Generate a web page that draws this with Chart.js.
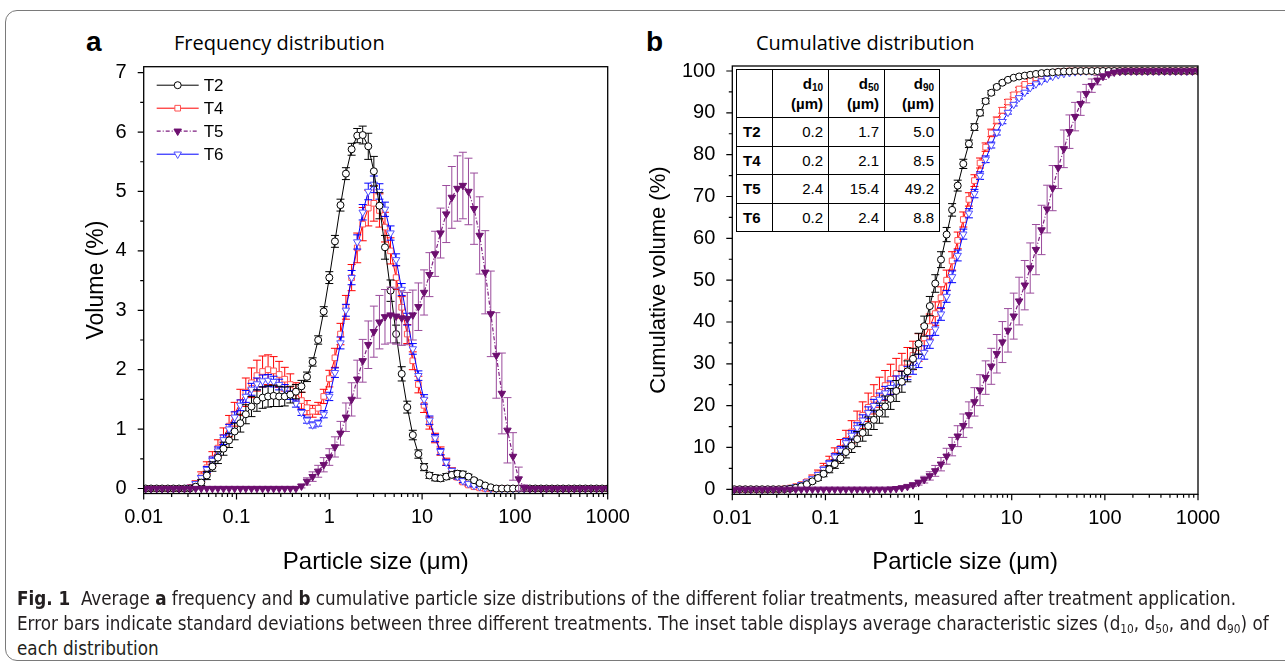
<!DOCTYPE html>
<html>
<head>
<meta charset="utf-8">
<script src="https://cdn.jsdelivr.net/npm/chart.js@4.4.1/dist/chart.umd.min.js"></script>
<style>
  body { margin: 0; width: 1285px; height: 668px; overflow: hidden; position: relative; background: #fff;
         font-family: 'Liberation Sans', Arial, sans-serif; color: #000; }
  .frame { position: absolute; left: 5px; top: 10px; width: 1320px; height: 651px; box-sizing: border-box;
           border: 1.5px solid #7a7a7a; border-radius: 12px; }
  canvas { position: absolute; }
  .plab { position: absolute; font-weight: bold; font-size: 28px; line-height: 1; }
  .ptitle { position: absolute; font-family: 'Open Sans', sans-serif; font-size: 20px; line-height: 1; }
  table.inset { position: absolute; left: 736px; top: 69px; width: 203px; table-layout: fixed;
                border-collapse: collapse; background: #fff; font-size: 15px; }
  table.inset td { border: 1px solid #000; padding: 0 5px 0 0; text-align: right; line-height: 17px; }
  table.inset tr { height: 28.5px; }
  table.inset tr.hd { height: 48px; }
  table.inset tr.hd td { font-weight: bold; line-height: 20px; }
  table.inset td.rl { font-weight: bold; text-align: left; padding-left: 6px; }
  table.inset sub { font-size: 10px; line-height: 0; vertical-align: -2px; }
  .cap { position: absolute; left: 17px; font-family: 'Liberation Sans Narrow', 'DejaVu Sans', sans-serif;
         font-stretch: condensed; font-size: 19px; line-height: 20px; white-space: nowrap;
         transform-origin: 0 0; color: #231f20; }
  .cap sub { font-size: 12px; line-height: 0; vertical-align: -3px; }
</style>
</head>
<body>
<div class="frame"></div>

<div class="plab" style="left:86px;top:28px">a</div>
<div class="ptitle" style="left:174px;top:33px">Frequency distribution</div>
<div class="plab" style="left:646px;top:28px">b</div>
<div class="ptitle" style="left:756px;top:33px">Cumulative distribution</div>

<canvas id="freqChart" width="600" height="570" style="left:40px;top:40px"></canvas>
<canvas id="cumChart" width="620" height="570" style="left:640px;top:40px"></canvas>

<table class="inset">
  <colgroup><col style="width:36px"><col style="width:56px"><col style="width:56px"><col style="width:55px"></colgroup>
  <tr class="hd"><td></td><td>d<sub>10</sub><br>(µm)</td><td>d<sub>50</sub><br>(µm)</td><td>d<sub>90</sub><br>(µm)</td></tr>
  <tr><td class="rl">T2</td><td>0.2</td><td>1.7</td><td>5.0</td></tr>
  <tr><td class="rl">T4</td><td>0.2</td><td>2.1</td><td>8.5</td></tr>
  <tr><td class="rl">T5</td><td>2.4</td><td>15.4</td><td>49.2</td></tr>
  <tr><td class="rl">T6</td><td>0.2</td><td>2.4</td><td>8.8</td></tr>
</table>

<div class="cap" style="top:588px"><b>Fig. 1</b>&nbsp; Average <b>a</b> frequency and <b>b</b> cumulative particle size distributions of the different foliar treatments, measured after treatment application.</div>
<div class="cap" style="top:613px">Error bars indicate standard deviations between three different treatments. The inset table displays average characteristic sizes (d<sub>10</sub>, d<sub>50</sub>, and d<sub>90</sub>) of</div>
<div class="cap" style="top:638px">each distribution</div>

<script>
// particle size classes (µm)
const sizes = [
  0.0105, 0.0120, 0.0138, 0.0158, 0.0182, 0.0209, 0.0240, 0.0275, 0.0316, 0.0363,
  0.0417, 0.0479, 0.0550, 0.0631, 0.0724, 0.0832, 0.0955, 0.110, 0.126, 0.145,
  0.166, 0.191, 0.219, 0.251, 0.288, 0.331, 0.380, 0.437, 0.501, 0.575,
  0.661, 0.759, 0.871, 1.00, 1.15, 1.32, 1.51, 1.74, 2.00, 2.29,
  2.63, 3.02, 3.47, 3.98, 4.57, 5.25, 6.03, 6.92, 7.94, 9.12,
  10.5, 12.0, 13.8, 15.8, 18.2, 20.9, 24.0, 27.5, 31.6, 36.3,
  41.7, 47.9, 55.0, 63.1, 72.4, 83.2, 95.5, 110, 126, 145,
  166, 191, 219, 251, 288, 331, 380, 437, 501, 575,
  661, 759, 871, 1000
];

const seriesNames = ['T2', 'T4', 'T5', 'T6'];
const xTickValues = [0.01, 0.1, 1, 10, 100, 1000];
const freqTickValues = [0, 1, 2, 3, 4, 5, 6, 7];
const cumTickValues = [0, 10, 20, 30, 40, 50, 60, 70, 80, 90, 100];

// frequency distribution, volume %
const freqT2 = [
  0, 0, 0, 0, 0, 0, 0, 0, 0, 0.03,
  0.10, 0.22, 0.37, 0.52, 0.67, 0.81, 0.96, 1.10, 1.25, 1.38,
  1.48, 1.53, 1.55, 1.56, 1.55, 1.55, 1.58, 1.63, 1.72, 1.88,
  2.13, 2.50, 2.98, 3.55, 4.16, 4.77, 5.30, 5.71, 5.94, 5.95,
  5.76, 5.34, 4.76, 4.06, 3.33, 2.60, 1.93, 1.37, 0.90, 0.58,
  0.36, 0.22, 0.18, 0.17, 0.20, 0.23, 0.25, 0.24, 0.20, 0.14,
  0.09, 0.05, 0.02, 0, 0, 0, 0, 0, 0, 0,
  0, 0, 0, 0, 0, 0, 0, 0, 0, 0,
  0, 0, 0, 0
];
const freqT2Err = [
  0, 0, 0, 0, 0, 0, 0, 0, 0, 0.03,
  0.05, 0.07, 0.08, 0.10, 0.11, 0.12, 0.14, 0.15, 0.16, 0.17,
  0.18, 0.18, 0.18, 0.18, 0.17, 0.16, 0.14, 0.12, 0.10, 0.08,
  0.07, 0.07, 0.08, 0.10, 0.10, 0.10, 0.10, 0.10, 0.12, 0.15,
  0.22, 0.25, 0.22, 0.20, 0.18, 0.15, 0.12, 0.10, 0.08, 0.07,
  0.06, 0.05, 0.05, 0.05, 0.05, 0.05, 0.05, 0.05, 0.04, 0.03,
  0.02, 0.02, 0.01, 0, 0, 0, 0, 0, 0, 0,
  0, 0, 0, 0, 0, 0, 0, 0, 0, 0,
  0, 0, 0, 0
];
const freqT4 = [
  0, 0, 0, 0, 0, 0, 0, 0, 0.02, 0.08,
  0.20, 0.35, 0.50, 0.68, 0.86, 1.05, 1.25, 1.45, 1.62, 1.78,
  1.90, 1.97, 2.00, 1.98, 1.92, 1.84, 1.75, 1.62, 1.48, 1.36,
  1.30, 1.35, 1.55, 1.85, 2.20, 2.60, 3.05, 3.55, 4.05, 4.45,
  4.72, 4.80, 4.68, 4.40, 4.00, 3.55, 3.05, 2.60, 2.15, 1.75,
  1.40, 1.10, 0.85, 0.63, 0.45, 0.30, 0.19, 0.11, 0.06, 0.03,
  0.01, 0, 0, 0, 0, 0, 0, 0, 0, 0,
  0, 0, 0, 0, 0, 0, 0, 0, 0, 0,
  0, 0, 0, 0
];
const freqT4Err = [
  0, 0, 0, 0, 0, 0, 0, 0, 0.02, 0.05,
  0.08, 0.10, 0.12, 0.14, 0.16, 0.18, 0.20, 0.22, 0.24, 0.25,
  0.26, 0.26, 0.25, 0.24, 0.22, 0.20, 0.18, 0.16, 0.14, 0.12,
  0.10, 0.10, 0.12, 0.14, 0.16, 0.18, 0.20, 0.22, 0.25, 0.28,
  0.30, 0.30, 0.28, 0.25, 0.22, 0.20, 0.18, 0.16, 0.15, 0.14,
  0.12, 0.10, 0.08, 0.07, 0.06, 0.05, 0.04, 0.03, 0.02, 0.01,
  0.01, 0, 0, 0, 0, 0, 0, 0, 0, 0,
  0, 0, 0, 0, 0, 0, 0, 0, 0, 0,
  0, 0, 0, 0
];
const freqT5 = [
  0, 0, 0, 0, 0, 0, 0, 0, 0, 0,
  0, 0, 0, 0, 0, 0, 0, 0, 0, 0,
  0, 0, 0, 0, 0, 0, 0, 0, 0.04, 0.12,
  0.20, 0.29, 0.40, 0.53, 0.70, 0.93, 1.20, 1.50, 1.84, 2.15,
  2.42, 2.64, 2.80, 2.89, 2.92, 2.90, 2.87, 2.86, 2.92, 3.06,
  3.30, 3.60, 3.95, 4.30, 4.62, 4.90, 5.05, 5.10, 5.00, 4.71,
  4.26, 3.64, 2.94, 2.24, 1.60, 0.98, 0.54, 0.16, 0.01, 0,
  0, 0, 0, 0, 0, 0, 0, 0, 0, 0,
  0, 0, 0, 0
];
const freqT5Err = [
  0, 0, 0, 0, 0, 0, 0, 0, 0, 0,
  0, 0, 0, 0, 0, 0, 0, 0, 0, 0,
  0, 0, 0, 0, 0, 0, 0, 0, 0.03, 0.06,
  0.08, 0.10, 0.12, 0.14, 0.17, 0.20, 0.24, 0.28, 0.32, 0.36,
  0.40, 0.43, 0.45, 0.46, 0.47, 0.47, 0.46, 0.44, 0.42, 0.40,
  0.38, 0.37, 0.38, 0.42, 0.48, 0.52, 0.55, 0.56, 0.56, 0.60,
  0.65, 0.70, 0.72, 0.72, 0.68, 0.55, 0.40, 0.20, 0.05, 0,
  0, 0, 0, 0, 0, 0, 0, 0, 0, 0,
  0, 0, 0, 0
];
const freqT6 = [
  0, 0, 0, 0, 0, 0, 0, 0, 0.02, 0.08,
  0.18, 0.32, 0.47, 0.63, 0.82, 1.00, 1.20, 1.40, 1.55, 1.67,
  1.76, 1.81, 1.82, 1.80, 1.75, 1.67, 1.57, 1.43, 1.28, 1.15,
  1.07, 1.10, 1.25, 1.55, 1.95, 2.45, 3.00, 3.55, 4.15, 4.65,
  5.00, 5.12, 5.00, 4.70, 4.30, 3.85, 3.35, 2.85, 2.35, 1.90,
  1.50, 1.15, 0.85, 0.62, 0.44, 0.30, 0.20, 0.13, 0.08, 0.05,
  0.03, 0.01, 0, 0, 0, 0, 0, 0, 0, 0,
  0, 0, 0, 0, 0, 0, 0, 0, 0, 0,
  0, 0, 0, 0
];
const freqT6Err = [
  0, 0, 0, 0, 0, 0, 0, 0, 0.01, 0.03,
  0.04, 0.05, 0.06, 0.07, 0.08, 0.08, 0.09, 0.09, 0.10, 0.10,
  0.10, 0.10, 0.10, 0.09, 0.09, 0.08, 0.07, 0.06, 0.05, 0.05,
  0.05, 0.05, 0.06, 0.07, 0.08, 0.10, 0.10, 0.12, 0.12, 0.13,
  0.14, 0.14, 0.13, 0.12, 0.12, 0.10, 0.10, 0.10, 0.09, 0.08,
  0.08, 0.07, 0.06, 0.05, 0.05, 0.04, 0.04, 0.03, 0.02, 0.02,
  0.01, 0.01, 0, 0, 0, 0, 0, 0, 0, 0,
  0, 0, 0, 0, 0, 0, 0, 0, 0, 0,
  0, 0, 0, 0
];

// cumulative distribution, volume %
const cumT2 = [
  0, 0, 0, 0, 0, 0, 0, 0, 0, 0.03,
  0.13, 0.35, 0.7, 1.2, 1.9, 2.7, 3.7, 4.8, 6.0, 7.4,
  8.9, 10.4, 12.0, 13.5, 15.1, 16.6, 18.2, 19.8, 21.6, 23.5,
  25.7, 28.2, 31.2, 34.8, 39.0, 43.8, 49.2, 54.9, 60.9, 66.8,
  72.6, 77.8, 82.6, 86.6, 90.0, 92.8, 94.8, 96.2, 97.2, 97.9,
  98.4, 98.7, 98.9, 99.1, 99.3, 99.5, 99.6, 99.7, 99.8, 99.9,
  99.9, 100, 100, 100, 100, 100, 100, 100, 100, 100,
  100, 100, 100, 100, 100, 100, 100, 100, 100, 100,
  100, 100, 100, 100
];
const cumT2Err = [
  0, 0, 0, 0, 0, 0, 0, 0, 0, 0.02,
  0.05, 0.1, 0.2, 0.3, 0.4, 0.55, 0.7, 0.85, 1.0, 1.2,
  1.4, 1.6, 1.8, 2.0, 2.2, 2.3, 2.4, 2.5, 2.5, 2.5,
  2.5, 2.5, 2.5, 2.5, 2.4, 2.3, 2.1, 1.9, 1.7, 1.5,
  1.3, 1.1, 0.9, 0.8, 0.7, 0.6, 0.5, 0.4, 0.35, 0.3,
  0.25, 0.2, 0.2, 0.15, 0.15, 0.1, 0.1, 0.1, 0.05, 0.05,
  0.05, 0, 0, 0, 0, 0, 0, 0, 0, 0,
  0, 0, 0, 0, 0, 0, 0, 0, 0, 0,
  0, 0, 0, 0
];
const cumT4 = [
  0, 0, 0, 0, 0, 0, 0, 0, 0.02, 0.1,
  0.3, 0.65, 1.15, 1.8, 2.7, 3.7, 5.0, 6.4, 8.1, 9.8,
  11.7, 13.7, 15.7, 17.7, 19.6, 21.5, 23.2, 24.8, 26.3, 27.7,
  29.0, 30.4, 32.0, 33.9, 36.2, 38.9, 42.0, 45.8, 50.0, 54.6,
  59.5, 64.5, 69.3, 73.8, 78.0, 81.8, 85.2, 88.2, 90.6, 92.6,
  94.3, 95.7, 96.8, 97.7, 98.4, 98.9, 99.3, 99.6, 99.8, 99.9,
  100, 100, 100, 100, 100, 100, 100, 100, 100, 100,
  100, 100, 100, 100, 100, 100, 100, 100, 100, 100,
  100, 100, 100, 100
];
const cumT4Err = [
  0, 0, 0, 0, 0, 0, 0, 0, 0.02, 0.05,
  0.1, 0.2, 0.35, 0.5, 0.7, 0.9, 1.2, 1.5, 1.8, 2.1,
  2.4, 2.7, 3.0, 3.2, 3.4, 3.5, 3.6, 3.6, 3.6, 3.6,
  3.5, 3.5, 3.4, 3.3, 3.2, 3.0, 2.8, 2.6, 2.4, 2.2,
  2.0, 1.8, 1.6, 1.4, 1.2, 1.0, 0.9, 0.8, 0.7, 0.6,
  0.5, 0.4, 0.3, 0.25, 0.2, 0.15, 0.1, 0.1, 0.05, 0.05,
  0, 0, 0, 0, 0, 0, 0, 0, 0, 0,
  0, 0, 0, 0, 0, 0, 0, 0, 0, 0,
  0, 0, 0, 0
];
const cumT5 = [
  0, 0, 0, 0, 0, 0, 0, 0, 0, 0,
  0, 0, 0, 0, 0, 0, 0, 0, 0, 0,
  0, 0, 0, 0, 0, 0, 0, 0, 0.05, 0.15,
  0.35, 0.65, 1.05, 1.6, 2.3, 3.2, 4.4, 6.0, 7.9, 10.2,
  12.7, 15.2, 17.8, 20.9, 23.7, 26.7, 29.4, 32.4, 35.2, 38.0,
  41.4, 45.0, 48.8, 52.9, 57.3, 62.0, 67.0, 72.0, 76.9, 81.4,
  85.5, 89.1, 92.2, 94.6, 96.5, 97.8, 98.7, 99.3, 99.7, 99.9,
  100, 100, 100, 100, 100, 100, 100, 100, 100, 100,
  100, 100, 100, 100
];
const cumT5Err = [
  0, 0, 0, 0, 0, 0, 0, 0, 0, 0,
  0, 0, 0, 0, 0, 0, 0, 0, 0, 0,
  0, 0, 0, 0, 0, 0, 0, 0, 0.03, 0.08,
  0.15, 0.25, 0.4, 0.6, 0.8, 1.0, 1.3, 1.6, 1.9, 2.2,
  2.5, 2.8, 3.1, 3.4, 3.7, 4.0, 4.3, 4.6, 4.9, 5.2,
  5.5, 5.7, 5.9, 6.0, 6.0, 5.9, 5.7, 5.4, 5.0, 4.5,
  4.0, 3.4, 2.8, 2.2, 1.6, 1.1, 0.7, 0.4, 0.2, 0.1,
  0, 0, 0, 0, 0, 0, 0, 0, 0, 0,
  0, 0, 0, 0
];
const cumT6 = [
  0, 0, 0, 0, 0, 0, 0, 0, 0.02, 0.1,
  0.3, 0.6, 1.1, 1.7, 2.5, 3.5, 4.7, 6.1, 7.7, 9.3,
  11.1, 12.9, 14.7, 16.5, 18.3, 20.0, 21.5, 23.0, 24.3, 25.5,
  26.6, 27.8, 29.1, 30.7, 32.7, 35.2, 38.3, 41.9, 46.1, 50.8,
  55.9, 61.0, 66.0, 70.7, 75.0, 78.9, 82.3, 85.3, 87.9, 90.1,
  92.0, 93.6, 94.9, 96.0, 96.9, 97.6, 98.2, 98.7, 99.1, 99.4,
  99.6, 99.8, 99.9, 100, 100, 100, 100, 100, 100, 100,
  100, 100, 100, 100, 100, 100, 100, 100, 100, 100,
  100, 100, 100, 100
];
const cumT6Err = [
  0, 0, 0, 0, 0, 0, 0, 0, 0.02, 0.05,
  0.1, 0.15, 0.2, 0.3, 0.4, 0.5, 0.6, 0.7, 0.8, 0.9,
  1.0, 1.1, 1.2, 1.3, 1.4, 1.5, 1.5, 1.6, 1.6, 1.6,
  1.6, 1.6, 1.6, 1.6, 1.6, 1.5, 1.5, 1.5, 1.4, 1.4,
  1.3, 1.2, 1.1, 1.0, 0.9, 0.8, 0.7, 0.6, 0.5, 0.4,
  0.35, 0.3, 0.25, 0.2, 0.15, 0.1, 0.1, 0.05, 0.05, 0.05,
  0, 0, 0, 0, 0, 0, 0, 0, 0, 0,
  0, 0, 0, 0, 0, 0, 0, 0, 0, 0,
  0, 0, 0, 0
];

// look of each series (T2, T4, T5, T6)
const styles = [
  { line: '#000000', width: 1, dash: [], point: 'circle', rotation: 0, radius: 3.5, stroke: '#000000', fill: '#ffffff', error: '#000000', order: 1 },
  { line: '#ff0000', width: 1, dash: [], point: 'rect', rotation: 0, radius: 4, stroke: '#ff5050', fill: '#ffffff', error: '#ff0000', order: 3 },
  { line: '#7e1e80', width: 1.2, dash: [4, 2, 1, 2], point: 'triangle', rotation: 180, radius: 4.3, stroke: '#6d0f6f', fill: '#6d0f6f', error: '#9a4b9c', order: 0 },
  { line: '#0000ff', width: 1, dash: [], point: 'triangle', rotation: 180, radius: 4.3, stroke: '#5050ff', fill: '#ffffff', error: '#0000ff', order: 2 }
];

Chart.defaults.font.family = "'Liberation Sans', Arial, sans-serif";
Chart.defaults.color = '#000';

// error bars under each series, frame and tick marks, legend
const decor = {
  id: 'decor',
  beforeDatasetDraw(chart, args) {
    const ds = chart.data.datasets[args.index];
    const { ctx, chartArea: a } = chart;
    const xs = chart.scales.x, ys = chart.scales.y;
    ctx.save();
    ctx.beginPath();
    ctx.rect(a.left, a.top, a.right - a.left, a.bottom - a.top);
    ctx.clip();
    ctx.strokeStyle = ds.errorColor;
    ctx.lineWidth = 1;
    ctx.beginPath();
    ds.data.forEach((p, i) => {
      const e = ds.errors[i];
      if (!e) return;
      const px = xs.getPixelForValue(p.x);
      const y1 = ys.getPixelForValue(p.y + e);
      const y2 = ys.getPixelForValue(p.y - e);
      ctx.moveTo(px, y1); ctx.lineTo(px, y2);
      ctx.moveTo(px - 4, y1); ctx.lineTo(px + 4, y1);
      ctx.moveTo(px - 4, y2); ctx.lineTo(px + 4, y2);
    });
    ctx.stroke();
    ctx.restore();
  },
  afterDraw(chart, args, opts) {
    const { ctx, chartArea: a } = chart;
    const xs = chart.scales.x, ys = chart.scales.y;
    ctx.save();
    ctx.strokeStyle = '#000';
    ctx.lineWidth = 1.3;
    ctx.strokeRect(a.left, a.top, a.right - a.left, a.bottom - a.top);
    ctx.lineWidth = 1.2;
    ctx.beginPath();
    for (let e = -2; e < 3; e++) {
      for (let m = 1; m <= 9; m++) {
        const px = xs.getPixelForValue(m * Math.pow(10, e));
        ctx.moveTo(px, a.bottom);
        ctx.lineTo(px, a.bottom + (m === 1 ? 6 : 3.5));
      }
    }
    const last = xs.getPixelForValue(1000);
    ctx.moveTo(last, a.bottom); ctx.lineTo(last, a.bottom + 6);
    for (let v = 0; v <= opts.yMax + 1e-9; v += opts.yMinor) {
      const py = ys.getPixelForValue(v);
      const major = Math.abs(v / opts.yMajor - Math.round(v / opts.yMajor)) < 1e-6;
      ctx.moveTo(a.left, py);
      ctx.lineTo(a.left - (major ? 6 : 3.5), py);
    }
    ctx.stroke();

    if (opts.legend) {
      ctx.font = "17px 'Liberation Sans', Arial, sans-serif";
      ctx.textBaseline = 'middle';
      chart.data.datasets.forEach((ds, i) => {
        const y = a.top + 18.5 + i * 23;
        ctx.strokeStyle = ds.borderColor;
        ctx.lineWidth = ds.borderWidth;
        ctx.setLineDash(ds.borderDash);
        ctx.beginPath();
        ctx.moveTo(a.left + 13, y);
        ctx.lineTo(a.left + 55, y);
        ctx.stroke();
        ctx.setLineDash([]);
        ctx.strokeStyle = ds.pointBorderColor;
        ctx.fillStyle = ds.pointBackgroundColor;
        ctx.lineWidth = 1;
        Chart.helpers.drawPoint(ctx, { pointStyle: ds.pointStyle, rotation: ds.pointRotation, radius: ds.pointRadius, borderWidth: 1 }, a.left + 34, y);
        ctx.fillStyle = '#000';
        ctx.fillText(ds.label, a.left + 60, y + 1);
      });
    }
    ctx.restore();
  }
};

function makeChart(id, cfg) {
  const datasets = seriesNames.map((name, s) => ({
    label: name,
    data: sizes.map((v, i) => ({ x: v, y: cfg.values[s][i] })),
    errors: cfg.errors[s],
    errorColor: styles[s].error,
    borderColor: styles[s].line,
    borderWidth: styles[s].width,
    borderDash: styles[s].dash,
    pointStyle: styles[s].point,
    pointRotation: styles[s].rotation,
    pointRadius: styles[s].radius,
    pointBorderWidth: 1,
    pointBorderColor: styles[s].stroke,
    pointBackgroundColor: styles[s].fill,
    order: styles[s].order,
    tension: 0,
    fill: false
  }));

  return new Chart(document.getElementById(id), {
    type: 'line',
    data: { datasets },
    plugins: [decor],
    options: {
      animation: false,
      responsive: false,
      devicePixelRatio: 1,
      events: [],
      layout: { padding: cfg.padding },
      plugins: {
        legend: { display: false },
        tooltip: { enabled: false },
        decor: { yMajor: cfg.yMajor, yMinor: cfg.yMinor, yMax: cfg.yTicks[cfg.yTicks.length - 1], legend: cfg.legend }
      },
      scales: {
        x: {
          type: 'logarithmic',
          position: 'bottom',
          min: 0.01,
          max: 1000,
          bounds: 'data',
          grid: { display: true, drawOnChartArea: false, drawTicks: true, tickLength: 6, tickColor: 'rgba(0,0,0,0)' },
          border: { display: false },
          ticks: { autoSkip: false, maxRotation: 0, minRotation: 0, padding: 6, font: { size: 20 }, callback: v => String(v) },
          afterBuildTicks: s => { s.ticks = xTickValues.map(v => ({ value: v })); },
          afterFit: s => { s.height = cfg.xHeight; },
          title: { display: true, text: 'Particle size (μm)', font: { size: 24 }, padding: { top: 0, bottom: 23 } }
        },
        y: {
          type: 'linear',
          position: 'left',
          min: cfg.yMin,
          max: cfg.yMaxAxis,
          bounds: 'data',
          grid: { display: true, drawOnChartArea: false, drawTicks: true, tickLength: 6, tickColor: 'rgba(0,0,0,0)' },
          border: { display: false },
          ticks: { autoSkip: false, padding: 11, font: { size: 20 }, callback: v => String(v) },
          afterBuildTicks: s => { s.ticks = cfg.yTicks.map(v => ({ value: v })); },
          afterFit: s => { s.width = cfg.yWidth; },
          title: { display: true, text: cfg.yTitle, font: { size: cfg.yTitleSize }, padding: { top: cfg.yTitlePad, bottom: 0 } }
        }
      }
    }
  });
}

makeChart('freqChart', {
  values: [freqT2, freqT4, freqT5, freqT6],
  errors: [freqT2Err, freqT4Err, freqT5Err, freqT6Err],
  padding: { left: 10, top: 26.7, right: 32.3, bottom: 10 },
  xHeight: 106.5,
  yWidth: 93.7,
  yMin: -0.084, yMaxAxis: 7.1,
  yTicks: freqTickValues, yMajor: 1, yMinor: 0.5,
  yTitle: 'Volume (%)', yTitleSize: 23, yTitlePad: 32.7,
  legend: true
});

makeChart('cumChart', {
  values: [cumT2, cumT4, cumT5, cumT6],
  errors: [cumT2Err, cumT4Err, cumT5Err, cumT6Err],
  padding: { left: 0, top: 26, right: 62, bottom: 10 },
  xHeight: 105.7,
  yWidth: 92.3,
  yMin: -1.2, yMaxAxis: 101.2,
  yTicks: cumTickValues, yMajor: 10, yMinor: 5,
  yTitle: 'Cumulative volume (%)', yTitleSize: 22, yTitlePad: 5.8,
  legend: false
});

// squeeze the caption lines to the width of the original column
function fitCaption() {
  const lines = document.querySelectorAll('.cap');
  lines.forEach(l => { l.style.transform = 'none'; });
  const w = lines[0].getBoundingClientRect().width;
  const k = 1219 / w;
  lines.forEach(l => { l.style.transform = 'scaleX(' + k + ')'; });
}
fitCaption();
if (document.fonts) document.fonts.ready.then(fitCaption);
</script>
</body>
</html>
